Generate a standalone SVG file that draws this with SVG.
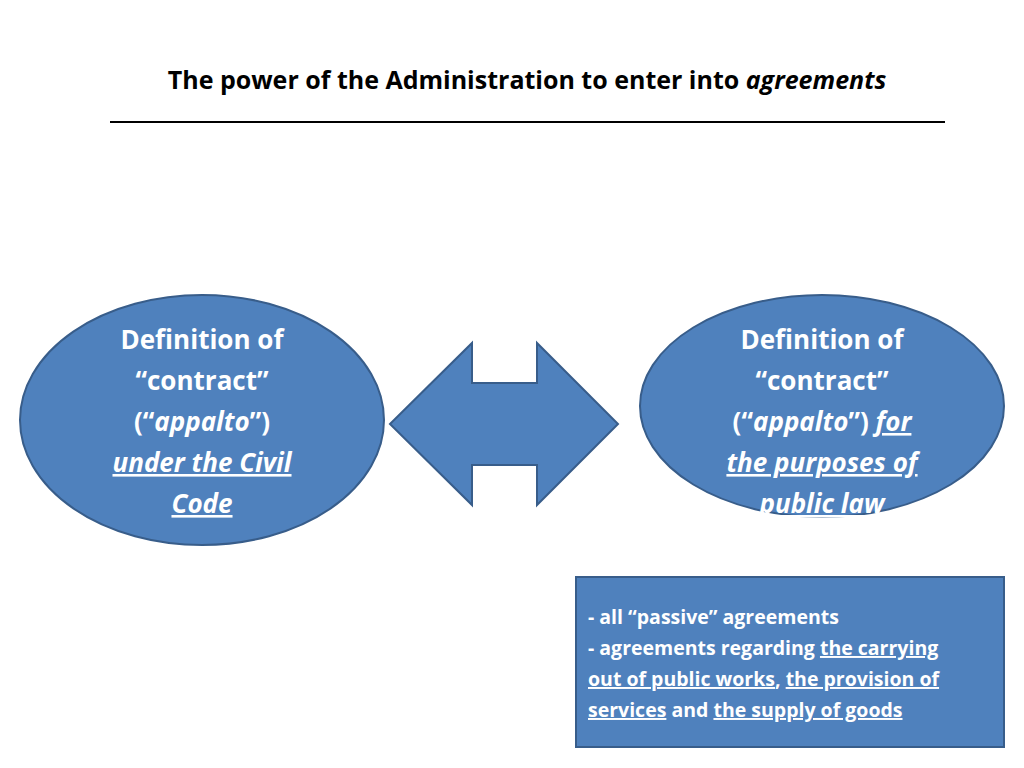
<svg xmlns="http://www.w3.org/2000/svg" width="1024" height="768" viewBox="0 0 1024 768">
<style>
.sh{fill:#4F81BD;stroke:#385D8A;stroke-width:2}
.t{font-family:"Open Sans","Liberation Sans",sans-serif;font-weight:bold;fill:#fff;font-size:26px;text-anchor:middle}
.b{font-family:"Open Sans","Liberation Sans",sans-serif;font-weight:bold;fill:#fff;font-size:19.5px}
.u{text-decoration:underline}
</style>
<rect width="1024" height="768" fill="#fff"/>
<g id="title">
<text x="527" y="89" font-family="Open Sans,Liberation Sans,sans-serif" font-weight="bold" font-size="25" text-anchor="middle" fill="#000">The power of the Administration to enter into <tspan font-style="italic">agreements</tspan></text>
<line x1="110" y1="122" x2="945" y2="122" stroke="#000" stroke-width="2"/>
</g>
<g id="left">
<ellipse class="sh" cx="202" cy="420" rx="182" ry="125"/>
<text class="t" x="202" y="349">Definition of</text>
<text class="t" x="202" y="390">“contract”</text>
<text class="t" x="202" y="431">(“<tspan font-style="italic">appalto</tspan>”)</text>
<text class="t u" x="202" y="472" font-style="italic">under the Civil</text>
<text class="t u" x="202" y="513" font-style="italic">Code</text>
</g>
<g id="right">
<ellipse class="sh" cx="822" cy="406" rx="182" ry="111"/>
<text class="t" x="822" y="349">Definition of</text>
<text class="t" x="822" y="390">“contract”</text>
<text class="t" x="822" y="431">(“<tspan font-style="italic">appalto</tspan>”) <tspan class="u" font-style="italic">for</tspan></text>
<text class="t u" x="822" y="472" font-style="italic">the purposes of</text>
<text class="t u" x="822" y="513" font-style="italic">public law</text>
</g>
<g id="connectors">
<polygon class="sh" points="390,424 472,343 472,383 537,383 537,343 618,424 537,505 537,465 472,465 472,505"/>
</g>
<g id="box">
<rect class="sh" x="576" y="577" width="428" height="170"/>
<text class="b" x="588" y="624">- all “passive” agreements</text>
<text class="b" x="588" y="655">- agreements regarding <tspan class="u">the carrying</tspan></text>
<text class="b" x="588" y="686"><tspan class="u">out of public works</tspan>,  <tspan class="u">the provision of</tspan></text>
<text class="b" x="588" y="717"><tspan class="u">services</tspan> and <tspan class="u">the supply of goods</tspan></text>
</g>
</svg>
